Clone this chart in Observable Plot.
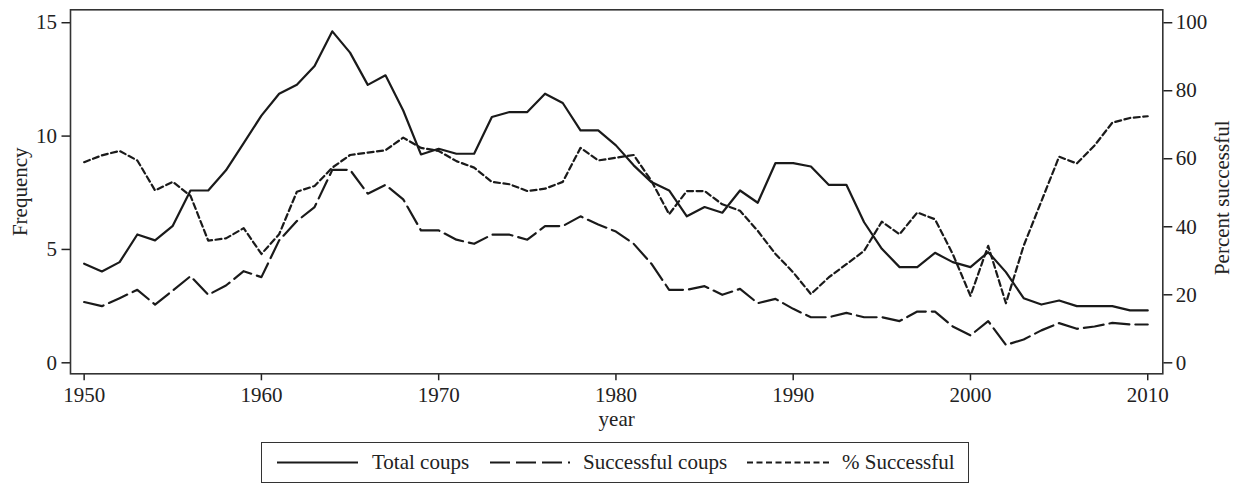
<!DOCTYPE html>
<html>
<head>
<meta charset="utf-8">
<script src="https://cdn.jsdelivr.net/npm/d3@7"></script>
<script src="https://cdn.jsdelivr.net/npm/@observablehq/plot@0.6"></script>
<style>
  html, body { margin: 0; padding: 0; background: #fff; }
  #wrap { position: relative; width: 1237px; height: 484px; overflow: hidden; font-family: "Liberation Serif", "Times New Roman", serif; color: #222; }
  #chart svg { display: block; }
  #legend { position: absolute; left: 261px; top: 442px; width: 708px; height: 41px; border: 1.5px solid #333; box-sizing: border-box; }
  #legend .t { position: absolute; top: 0; line-height: 39px; font-size: 21px; white-space: nowrap; }
  #legend svg { position: absolute; left: 0; top: 0; }
</style>
</head>
<body>
<div id="wrap">
  <div id="chart"></div>
  <div id="legend"></div>
</div>
<script>
const years = [1950,1951,1952,1953,1954,1955,1956,1957,1958,1959,
  1960,1961,1962,1963,1964,1965,1966,1967,1968,1969,
  1970,1971,1972,1973,1974,1975,1976,1977,1978,1979,
  1980,1981,1982,1983,1984,1985,1986,1987,1988,1989,
  1990,1991,1992,1993,1994,1995,1996,1997,1998,1999,
  2000,2001,2002,2003,2004,2005,2006,2007,2008,2009,2010];

const totalCoups = [4.37,4.03,4.44,5.66,5.40,6.04,7.60,7.60,8.49,9.69,
  10.90,11.87,12.26,13.09,14.62,13.68,12.26,12.68,11.13,9.19,
  9.44,9.22,9.22,10.84,11.06,11.06,11.87,11.46,10.25,10.25,
  9.59,8.71,7.97,7.60,6.46,6.87,6.62,7.60,7.06,8.81,
  8.81,8.66,7.85,7.85,6.20,5.03,4.22,4.22,4.85,4.44,
  4.22,4.88,4.00,2.85,2.57,2.75,2.50,2.50,2.50,2.31,2.31];

const successfulCoups = [2.68,2.50,2.85,3.22,2.57,3.19,3.82,3.00,3.41,4.04,
  3.78,5.40,6.25,6.87,8.51,8.51,7.46,7.85,7.21,5.84,
  5.84,5.43,5.25,5.65,5.65,5.43,6.03,6.03,6.46,6.10,
  5.79,5.25,4.37,3.22,3.22,3.38,3.00,3.26,2.63,2.82,
  2.38,2.01,2.01,2.20,2.01,2.01,1.84,2.26,2.26,1.60,
  1.21,1.84,0.79,1.03,1.43,1.75,1.50,1.60,1.76,1.69,1.69];

const pctSuccessful = [59.0,61.0,62.3,59.5,50.7,53.2,49.1,35.9,36.6,39.6,
  32.0,37.8,50.3,52.0,57.4,61.1,61.8,62.5,66.2,63.2,
  62.3,59.3,57.4,53.2,52.5,50.5,51.2,53.2,63.2,59.5,
  60.3,61.1,53.5,43.7,50.5,50.5,46.6,44.7,38.8,32.0,
  26.6,20.2,25.1,29.0,32.9,41.5,37.8,44.2,42.2,32.0,
  19.7,34.4,17.5,34.4,47.5,60.6,58.6,63.9,70.6,72.0,72.5];

const xTicks = [1950,1960,1970,1980,1990,2000,2010];
const leftTicks = [0,5,10,15];
const rightTicks = [0,20,40,60,80,100];
const seriesNames = ["Total coups","Successful coups","% Successful"];
const leftTitle = "Frequency";
const rightTitle = "Percent successful";
const xTitle = "year";

// right axis maps 100% onto 15 on the frequency scale
const pctToFreq = p => p * 15 / 100;

const ink = "#1a1a1a";
const dashes = [null, "20,6", "6,3.5"];

const chart = Plot.plot({
  width: 1237,
  height: 436,
  marginLeft: 70,
  marginRight: 74.7,
  marginTop: 9.3,
  marginBottom: 62.7,
  style: {fontFamily: "'Liberation Serif', 'Times New Roman', serif", fontSize: "21px", color: "#222", background: "#fff"},
  x: {domain: [1949.23, 2010.85]},
  y: {domain: [-0.485, 15.57]},
  marks: [
    Plot.axisX(xTicks, {tickFormat: d => String(d), tickSize: 7, tickPadding: 6, strokeWidth: 1.5, label: null}),
    Plot.axisY(leftTicks, {anchor: "left", tickSize: 8.5, tickPadding: 5, strokeWidth: 1.5, label: null}),
    Plot.axisY(rightTicks.map(pctToFreq), {anchor: "right", tickFormat: d => String(Math.round(d * 100 / 15)), tickSize: 9, tickPadding: 4, strokeWidth: 1.5, label: null}),
    Plot.frame({stroke: "#333", strokeWidth: 1.6}),
    Plot.lineY(totalCoups, {x: years, stroke: ink, strokeWidth: 2.2}),
    Plot.lineY(successfulCoups, {x: years, stroke: ink, strokeWidth: 2.2, strokeDasharray: dashes[1]}),
    Plot.lineY(pctSuccessful, {x: years, y: pctToFreq, stroke: ink, strokeWidth: 2.2, strokeDasharray: dashes[2]}),
    Plot.text([leftTitle], {frameAnchor: "left", dx: -50, rotate: -90, textAnchor: "middle", lineAnchor: "middle", fill: "#222"}),
    Plot.text([rightTitle], {frameAnchor: "right", dx: 59, dy: 6, rotate: -90, textAnchor: "middle", lineAnchor: "middle", fill: "#222"}),
    Plot.text([xTitle], {frameAnchor: "bottom", dy: 45, textAnchor: "middle", lineAnchor: "middle", fill: "#222"})
  ]
});
document.getElementById("chart").appendChild(chart);

// legend
const legend = d3.select("#legend");
const items = [
  {x0: 15, x1: 96, tx: 110},
  {x0: 228, x1: 308, tx: 321},
  {x0: 485, x1: 568, tx: 580}
];
const lsvg = legend.append("svg").attr("width", 706).attr("height", 39);
items.forEach((it, i) => {
  lsvg.append("line")
    .attr("x1", it.x0).attr("x2", it.x1)
    .attr("y1", 19.5).attr("y2", 19.5)
    .attr("stroke", ink).attr("stroke-width", 2.2)
    .attr("stroke-dasharray", dashes[i]);
  legend.append("div").attr("class", "t").style("left", it.tx + "px").text(seriesNames[i]);
});
</script>
</body>
</html>
